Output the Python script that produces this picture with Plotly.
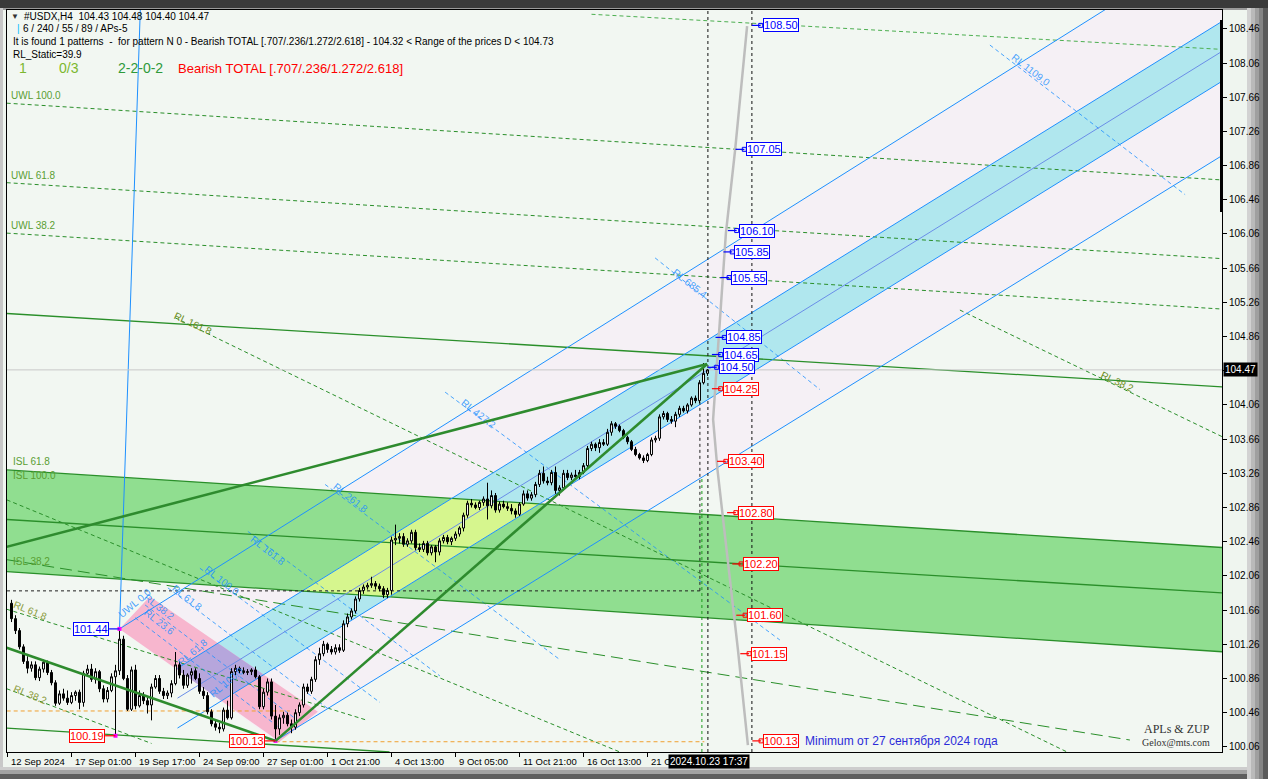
import plotly.graph_objects as go

# ---------------- data (#USDX, H4) ----------------
# bar index 0 = first visible bar, 4 px per bar
opens = [101.74, 101.56, 101.42, 101.23, 101.06, 100.98, 101.02, 100.87, 100.97, 101.05,
         100.93, 100.81, 100.57, 100.68, 100.63, 100.58, 100.66, 100.70, 100.58, 100.92,
         100.97, 100.85, 100.94, 100.74, 100.62, 100.72, 100.88, 100.95, 101.32, 100.86,
         100.50, 100.96, 100.54, 100.66, 100.60, 100.55, 100.76, 100.86, 100.71, 100.66,
         100.69, 100.80, 101.02, 100.90, 100.78, 100.90, 100.95, 100.86, 100.71, 100.66,
         100.47, 100.33, 100.29, 100.27, 100.49, 100.40, 100.94, 100.98, 100.95, 100.93,
         100.94, 100.96, 100.88, 100.53, 100.70, 100.82, 100.42, 100.27, 100.40, 100.43,
         100.33, 100.29, 100.46, 100.55, 100.76, 100.71, 100.85, 101.08, 101.15, 101.26,
         101.20, 101.17, 101.22, 101.19, 101.50, 101.58, 101.65, 101.79, 101.89, 101.93,
         101.95, 101.97, 101.94, 101.91, 101.84, 101.89, 102.48, 102.50, 102.52, 102.43,
         102.47, 102.57, 102.39, 102.37, 102.44, 102.33, 102.40, 102.34, 102.47, 102.51,
         102.46, 102.50, 102.55, 102.62, 102.77, 102.91, 102.89, 102.86, 102.92, 102.96,
         102.88, 103.00, 102.83, 102.90, 102.87, 102.85, 102.82, 102.78, 102.90, 103.02,
         102.97, 103.01, 103.13, 103.26, 103.17, 103.15, 103.27, 103.06, 103.09, 103.26,
         103.21, 103.24, 103.22, 103.27, 103.35, 103.55, 103.60, 103.56, 103.62, 103.60,
         103.74, 103.84, 103.81, 103.76, 103.68, 103.63, 103.54, 103.48, 103.44, 103.41,
         103.48, 103.65, 103.67, 103.92, 103.96, 103.89, 103.87, 103.95, 104.02, 103.99,
         104.06, 104.14, 104.11, 104.32, 104.43]
highs = [101.78, 101.60, 101.45, 101.26, 101.12, 101.06, 101.06, 101.00, 101.08, 101.07,
         100.96, 100.84, 100.72, 100.74, 100.72, 100.70, 100.72, 100.73, 100.95, 101.02,
         101.03, 100.98, 100.96, 100.78, 100.76, 100.92, 101.02, 101.44, 101.36, 100.90,
         101.00, 101.02, 100.72, 100.70, 100.64, 100.80, 100.90, 100.90, 100.75, 100.72,
         100.84, 101.17, 101.06, 100.96, 100.92, 100.98, 100.98, 100.92, 100.76, 100.70,
         100.50, 100.38, 100.34, 100.52, 100.60, 100.98, 101.02, 101.00, 100.99, 100.97,
         100.98, 101.00, 100.90, 100.74, 100.86, 100.86, 100.55, 100.44, 100.47, 100.46,
         100.38, 100.50, 100.58, 100.80, 100.80, 100.88, 101.12, 101.22, 101.30, 101.28,
         101.24, 101.26, 101.26, 101.54, 101.62, 101.68, 101.82, 101.92, 101.96, 101.98,
         102.05, 102.00, 101.97, 101.94, 101.92, 102.52, 102.66, 102.56, 102.56, 102.50,
         102.60, 102.60, 102.44, 102.47, 102.47, 102.42, 102.42, 102.50, 102.54, 102.54,
         102.52, 102.58, 102.64, 102.80, 102.94, 102.96, 102.92, 102.94, 102.99, 103.15,
         103.06, 103.03, 102.93, 102.94, 102.92, 102.90, 102.85, 102.92, 103.06, 103.06,
         103.04, 103.16, 103.30, 103.34, 103.22, 103.30, 103.34, 103.12, 103.30, 103.30,
         103.27, 103.30, 103.30, 103.38, 103.58, 103.63, 103.62, 103.66, 103.66, 103.78,
         103.87, 103.86, 103.83, 103.78, 103.70, 103.65, 103.57, 103.50, 103.47, 103.50,
         103.68, 103.70, 103.95, 103.99, 103.98, 103.93, 103.98, 104.05, 104.05, 104.08,
         104.16, 104.17, 104.35, 104.55, 104.48]
lows = [101.52, 101.38, 101.20, 101.03, 100.92, 100.94, 100.84, 100.83, 100.93, 100.90,
        100.78, 100.54, 100.55, 100.60, 100.55, 100.56, 100.60, 100.50, 100.53, 100.90,
        100.82, 100.80, 100.70, 100.58, 100.58, 100.70, 100.19, 100.90, 100.84, 100.48,
        100.48, 100.50, 100.52, 100.56, 100.45, 100.37, 100.74, 100.68, 100.62, 100.62,
        100.64, 100.78, 100.86, 100.74, 100.75, 100.80, 100.84, 100.68, 100.62, 100.44,
        100.30, 100.25, 100.22, 100.24, 100.38, 100.38, 100.90, 100.92, 100.91, 100.90,
        100.90, 100.86, 100.50, 100.50, 100.66, 100.38, 100.13, 100.20, 100.33, 100.30,
        100.22, 100.26, 100.42, 100.52, 100.68, 100.68, 100.82, 101.02, 101.12, 101.16,
        101.14, 101.14, 101.16, 101.17, 101.46, 101.55, 101.62, 101.76, 101.85, 101.90,
        101.92, 101.90, 101.88, 101.80, 101.80, 101.84, 102.42, 102.44, 102.40, 102.40,
        102.44, 102.36, 102.34, 102.34, 102.30, 102.30, 102.22, 102.30, 102.44, 102.43,
        102.42, 102.47, 102.52, 102.58, 102.74, 102.86, 102.84, 102.83, 102.88, 102.72,
        102.85, 102.80, 102.80, 102.85, 102.82, 102.78, 102.74, 102.76, 102.88, 102.94,
        102.94, 102.98, 103.10, 103.14, 103.12, 103.12, 103.02, 103.00, 103.06, 103.18,
        103.18, 103.20, 103.19, 103.25, 103.32, 103.52, 103.52, 103.50, 103.58, 103.58,
        103.70, 103.78, 103.74, 103.66, 103.60, 103.52, 103.46, 103.42, 103.38, 103.39,
        103.46, 103.62, 103.64, 103.89, 103.86, 103.84, 103.80, 103.92, 103.97, 103.96,
        104.04, 104.08, 104.08, 104.30, 104.40]
closes = [101.56, 101.42, 101.23, 101.06, 100.98, 101.02, 100.87, 100.97, 101.05, 100.93,
          100.81, 100.57, 100.68, 100.63, 100.58, 100.66, 100.70, 100.58, 100.92, 100.97,
          100.85, 100.94, 100.74, 100.62, 100.72, 100.88, 100.95, 101.32, 100.86, 100.50,
          100.96, 100.54, 100.66, 100.60, 100.55, 100.76, 100.86, 100.71, 100.66, 100.69,
          100.80, 101.02, 100.90, 100.78, 100.90, 100.94, 100.86, 100.71, 100.66, 100.47,
          100.33, 100.29, 100.27, 100.49, 100.40, 100.94, 100.98, 100.95, 100.93, 100.94,
          100.96, 100.88, 100.53, 100.70, 100.82, 100.42, 100.27, 100.40, 100.43, 100.33,
          100.29, 100.46, 100.55, 100.76, 100.71, 100.85, 101.08, 101.15, 101.26, 101.20,
          101.17, 101.22, 101.19, 101.50, 101.58, 101.65, 101.79, 101.89, 101.93, 101.95,
          101.97, 101.94, 101.91, 101.84, 101.89, 102.48, 102.50, 102.52, 102.43, 102.47,
          102.57, 102.39, 102.37, 102.44, 102.33, 102.40, 102.34, 102.47, 102.51, 102.46,
          102.50, 102.55, 102.62, 102.77, 102.91, 102.89, 102.86, 102.92, 102.96, 102.88,
          103.00, 102.83, 102.90, 102.87, 102.85, 102.82, 102.78, 102.90, 103.02, 102.97,
          103.01, 103.13, 103.26, 103.17, 103.15, 103.27, 103.06, 103.09, 103.26, 103.21,
          103.24, 103.22, 103.27, 103.35, 103.55, 103.60, 103.56, 103.62, 103.60, 103.74,
          103.84, 103.81, 103.76, 103.68, 103.63, 103.54, 103.48, 103.44, 103.41, 103.48,
          103.65, 103.67, 103.92, 103.96, 103.89, 103.87, 103.95, 104.02, 103.99, 104.06,
          104.14, 104.11, 104.32, 104.43, 104.47]
bars = list(range(len(closes)))

tick_bars = [-1, 15, 31, 47, 63, 79, 95, 111, 127, 143, 159]
tick_labels = ["12 Sep 2024", "17 Sep 01:00", "19 Sep 17:00", "24 Sep 09:00", "27 Sep 01:00",
               "1 Oct 21:00", "4 Oct 13:00", "9 Oct 05:00", "11 Oct 21:00", "16 Oct 13:00",
               "21 Oct 05:00"]
price_ticks = [100.06, 100.46, 100.86, 101.26, 101.66, 102.06, 102.46, 102.86, 103.26, 103.66,
               104.06, 104.46, 104.86, 105.26, 105.66, 106.06, 106.46, 106.86, 107.26, 107.66,
               108.06, 108.46]
last_price = 104.47

# pattern legs (bar, price)
xa_leg = ([-1.2, 66], [101.22, 100.13])
xb_leg = ([-1.2, 173.9], [102.40, 104.54])
ab_leg = ([66, 173.9], [100.13, 104.54])

# blue channel rays
ray_steep = ([27, 32.2], [101.44, 108.68])
ray_upper = ([27, 310], [101.44, 109.76])
ray_lower = ([66, 310], [100.13, 107.19])
cyan_x = [41.5, 310]
cyan_top = [100.98, 108.76]
cyan_mid = [100.63, 108.41]
cyan_bot = [100.28, 108.06]

# green ISL band
band_x = [-1.2, 310]
band_top = [103.30, 102.37]
band_mid = [102.72, 101.84]
band_bot = [102.11, 101.15]

# pink band
pink_x = [27, 34.6, 76.6, 67.0]
pink_y = [101.44, 101.82, 100.47, 100.12]

# thin solid green lines
green_upper = ([-1.2, 310], [105.13, 104.25])
green_floor = ([-1.2, 94.5], [100.28, 100.0])

# UWL dashed lines
uwl_x = [-1.2, 310]
uwl_100 = [107.59, 106.67]
uwl_618 = [106.66, 105.75]
uwl_382 = [106.07, 105.16]
top_dash = ([145, 310], [108.63, 108.20])

# RL dashed green lines
rl_green = [([40.9, 263.9], [105.08, 100.0]),
            ([-1.2, 152.1], [102.95, 100.0]),
            ([-1.2, 279.6], [102.25, 100.14]),
            ([237.1, 302.6], [105.17, 103.69]),
            ([-1.2, 89.0], [101.67, 100.37]),
            ([-1.2, 35.0], [100.74, 100.10])]

# RL dashed blue lines
rl_blue = [([244.6, 293.4], [108.27, 106.52]),
           ([160.9, 202.1], [105.78, 104.24]),
           ([108.4, 192.1], [104.21, 101.31]),
           ([78.4, 137.1], [103.13, 101.08]),
           ([59.1, 107.1], [102.58, 100.89]),
           ([47.1, 92.1], [102.15, 100.58]),
           ([39.1, 79.6], [101.92, 100.49]),
           ([33.4, 72.1], [101.72, 100.35]),
           ([30.9, 67.1], [101.57, 100.28])]

vline_bars = [174.1, 185.1]
box_level = 101.885
box_bar = 172.1
box_top = 104.2
orange_levels = [100.48, 100.12]
orange_from = [-1.2, 66]
orange_to = [69.6, 173.2]

# projection (grey) line
proj_bars = [183.9, 180.9, 178.6, 176.9, 175.9, 175.4, 176.5, 179.1, 181.6, 184.1]
proj_prices = [108.49, 107.04, 106.07, 104.90, 104.16, 103.89, 103.30, 102.25, 101.20, 100.08]

# target labels
blue_levels = [108.50, 107.05, 106.10, 105.85, 105.55, 104.85, 104.65, 104.50]
blue_bars = [187.3, 183.2, 181.3, 180.2, 179.4, 178.2, 177.3, 176.3]
red_levels = [104.25, 103.40, 102.80, 102.20, 101.60, 101.15, 100.13]
red_bars = [177.3, 178.6, 181.1, 182.4, 183.4, 184.4, 187.4]

swing_bars = [27, 26, 66]
swing_prices = [101.44, 100.19, 100.13]
swing_colors = ["#0000ff", "#ff0000", "#ff0000"]

# ---------------- layout geometry ----------------
W, H = 1268, 779
L, R, T, B = 7, 46, 10, 27
PW, PH = W - L - R, H - T - B
X0, X1 = -1.125, 302.625
Y0, Y1 = 100.0, 108.68
FONT = "Liberation Sans"

BLUE = "#1e90ff"
DGREEN = "#2a8f2a"
SHORT_DASH = "4px,3px"
DOTS = "3px,3px"


def fx(px):
    return (px - L) / PW


def fy(py):
    return (H - B - py) / PH


shapes = []
annotations = []


def seg(xs, ys, color, width=1, dash="solid", layer="below"):
    shapes.append(dict(type="line", xref="x", yref="y", x0=xs[0], y0=ys[0], x1=xs[1], y1=ys[1],
                       line=dict(color=color, width=width, dash=dash), layer=layer))


def poly(pts, fill):
    if len(pts) < 3:
        return
    path = "M " + " L ".join(f"{x:.4f},{y:.4f}" for x, y in pts) + " Z"
    shapes.append(dict(type="path", xref="x", yref="y", path=path, fillcolor=fill,
                       line=dict(width=0), layer="below"))


def clip_poly(subj, clip):
    area = sum(clip[k - 1][0] * clip[k][1] - clip[k][0] * clip[k - 1][1] for k in range(len(clip)))
    if area < 0:
        clip = clip[::-1]

    def inside(p, a, b):
        return (b[0] - a[0]) * (p[1] - a[1]) - (b[1] - a[1]) * (p[0] - a[0]) >= 0

    def cross(p, q, a, b):
        dx, dy = q[0] - p[0], q[1] - p[1]
        ex, ey = b[0] - a[0], b[1] - a[1]
        t = ((a[0] - p[0]) * ey - (a[1] - p[1]) * ex) / (dx * ey - dy * ex)
        return (p[0] + t * dx, p[1] + t * dy)

    out = list(subj)
    for k in range(len(clip)):
        a, b = clip[k - 1], clip[k]
        inp, out = out, []
        for j in range(len(inp)):
            cur, prev = inp[j], inp[j - 1]
            if inside(cur, a, b):
                if not inside(prev, a, b):
                    out.append(cross(prev, cur, a, b))
                out.append(cur)
            elif inside(prev, a, b):
                out.append(cross(prev, cur, a, b))
        if not out:
            break
    return out


def note(text, px, py, size=10, color="black", anchor="left", angle=0, family=FONT, **kw):
    annotations.append(dict(text=text, x=fx(px), y=fy(py), xref="paper", yref="paper",
                            xanchor=anchor, yanchor="middle", showarrow=False, textangle=angle,
                            font=dict(family=family, size=size, color=color), **kw))


# ---------------- fills ----------------
channel = [(ray_upper[0][0], ray_upper[1][0]), (ray_upper[0][1], ray_upper[1][1]),
           (ray_lower[0][1], ray_lower[1][1]), (ray_lower[0][0], ray_lower[1][0])]
poly(channel, "#f5f0f5")

green_poly = [(band_x[0], band_top[0]), (band_x[1], band_top[1]),
              (band_x[1], band_bot[1]), (band_x[0], band_bot[0])]
cyan_poly = [(cyan_x[0], cyan_top[0]), (cyan_x[1], cyan_top[1]),
             (cyan_x[1], cyan_bot[1]), (cyan_x[0], cyan_bot[0])]
pink_poly = list(zip(pink_x, pink_y))

# cyan band is cut along the lower edge of the pink band (A -> D) extended
ax_, ay_ = pink_x[0], pink_y[0]
dx_, dy_ = pink_x[3] - ax_, pink_y[3] - ay_
p1 = (ax_ - 2 * dx_, ay_ - 2 * dy_)
p2 = (ax_ + 11 * dx_, ay_ + 11 * dy_)
half_plane = [p1, p2, (p2[0], 130.0), (p1[0], 130.0)]
cyan_cut = clip_poly(cyan_poly, half_plane)

poly(green_poly, "#90de90")
poly(cyan_cut, "#b0e7ee")
poly(pink_poly, "#f7b6ce")
poly(clip_poly(cyan_cut, green_poly), "#d6f68e")
poly(clip_poly(pink_poly, cyan_cut), "#b6a6dc")

# ---------------- lines ----------------
for ys in (uwl_100, uwl_618, uwl_382):
    seg(uwl_x, ys, DGREEN, 1, SHORT_DASH)
seg(top_dash[0], top_dash[1], "#4caf50", 1, SHORT_DASH)
for k, (xs, ys) in enumerate(rl_green):
    seg(xs, ys, DGREEN, 1, "12px,6px" if k == 2 else SHORT_DASH)
for xs, ys in rl_blue:
    seg(xs, ys, "rgba(30,144,255,0.8)", 1, SHORT_DASH)

seg(band_x, band_top, DGREEN, 1.3)
seg(band_x, band_mid, DGREEN, 1.3)
seg(band_x, band_bot, DGREEN, 1.3)
seg(green_upper[0], green_upper[1], DGREEN, 1.3)
seg(green_floor[0], green_floor[1], DGREEN, 1.3)

seg(ray_steep[0], ray_steep[1], BLUE, 1)
seg(ray_upper[0], ray_upper[1], BLUE, 1)
seg(ray_lower[0], ray_lower[1], BLUE, 1)
seg(cyan_x, cyan_top, BLUE, 1)
seg(cyan_x, cyan_mid, "#6a8ee8", 1)
seg(cyan_x, cyan_bot, BLUE, 1)

for lv, a, b in zip(orange_levels, orange_from, orange_to):
    seg([a, b], [lv, lv], "#f0a030", 1, SHORT_DASH)
seg([X0, box_bar], [box_level, box_level], "#202020", 1, DOTS)
seg([box_bar, box_bar], [box_level, box_top], "#202020", 1, DOTS)
seg([box_bar + 0.5, box_bar + 0.5], [Y0, 103.2], "#1a9a1a", 1, DOTS)
for vb in vline_bars:
    seg([vb, vb], [Y0, Y1], "#101010", 1, DOTS)
seg([X0, X1], [last_price, last_price], "#c8c8c8", 1)

seg(xa_leg[0], xa_leg[1], "#2e8b2e", 2.6, layer="above")
seg(xb_leg[0], xb_leg[1], "#2e8b2e", 2.6, layer="above")
seg(ab_leg[0], ab_leg[1], "#2e8b2e", 2.6, layer="above")

# ---------------- traces ----------------
fig = go.Figure()
fig.add_trace(go.Candlestick(
    x=bars, open=opens, high=highs, low=lows, close=closes,
    increasing=dict(line=dict(color="black", width=1), fillcolor="white"),
    decreasing=dict(line=dict(color="black", width=1), fillcolor="black"),
    whiskerwidth=0, hoverinfo="skip"))

fig.add_trace(go.Scatter(x=proj_bars, y=proj_prices, mode="lines",
                         line=dict(color="#bdbdbd", width=2.5), hoverinfo="skip"))

LABEL_STUB = 2.2
for levels, lbars, col in ((blue_levels, blue_bars, "#0000ff"), (red_levels, red_bars, "#ff0000")):
    for lv, lb in zip(levels, lbars):
        seg([lb - LABEL_STUB, lb], [lv, lv], col, 1.2, layer="above")
        annotations.append(dict(text=f"{lv:.2f}", x=lb, y=lv, xref="x", yref="y", xanchor="left",
                                yanchor="middle", xshift=2, showarrow=False,
                                font=dict(family=FONT, size=11, color=col),
                                bgcolor="white", bordercolor=col, borderwidth=1, borderpad=0))
    fig.add_trace(go.Scatter(x=lbars, y=levels, mode="markers", hoverinfo="skip",
                             marker=dict(symbol="square-open", size=4, color=col,
                                         line=dict(width=1, color=col))))

SWING_GAP = 2.6
for sb, sp, col in zip(swing_bars, swing_prices, swing_colors):
    seg([sb - SWING_GAP, sb], [sp, sp], col, 1.2, layer="above")
    annotations.append(dict(text=f"{sp:.2f}", x=sb - SWING_GAP, y=sp, xref="x", yref="y",
                            xanchor="right", yanchor="middle", showarrow=False,
                            font=dict(family=FONT, size=11, color=col),
                            bgcolor="white", bordercolor=col, borderwidth=1, borderpad=0))
fig.add_trace(go.Scatter(x=swing_bars, y=swing_prices, mode="markers", hoverinfo="skip",
                         marker=dict(symbol="square", size=4, color="#ff00ff")))

# ---------------- texts ----------------
note("\u25bc", 9, 16, size=8, color="#333333")
note("#USDX,H4\u00a0\u00a0104.43 104.48 104.40 104.47", 22, 16, size=10)
note("|", 15, 29, size=10, color="#00bfff")
note("6 / 240 / 55 / 89 / APs-5", 21, 29, size=10)
note("It is found 1 patterns\u00a0 -\u00a0 for pattern N 0 - Bearish TOTAL [.707/.236/1.272/2.618] - 104.32 < Range of the prices D < 104.73",
     11, 42, size=10)
note("RL_Static=39.9", 11, 54, size=10)
note("1", 17, 68, size=14, color="#7cb82f")
note("0/3", 57, 68, size=14, color="#7cb82f")
note("2-2-0-2", 116, 68, size=14, color="#2e9a3a")
note("Bearish TOTAL [.707/.236/1.272/2.618]", 176, 68, size=13, color="#ff0000")

GL = "#5a9e32"
note("UWL 100.0", 9, 95, size=10, color=GL)
note("UWL 61.8", 9, 175, size=10, color=GL)
note("UWL 38.2", 9, 225, size=10, color=GL)
note("ISL 61.8", 11, 462, size=10, color=GL)
note("ISL 100.0", 11, 475, size=10, color=GL)
note("ISL 38.2", 11, 561, size=10, color=GL)
note("RL 161.8", 193, 323, size=10, color="#6b8e23", anchor="center", angle=25)
note("RL 38.2", 1117, 381, size=10, color="#6b8e23", anchor="center", angle=25)
note("RL 61.8", 30, 610, size=10, color="#8a9a3a", anchor="center", angle=22)
note("RL 38.2", 30, 694, size=10, color="#8a9a3a", anchor="center", angle=22)

BL = "rgba(30,144,255,0.85)"
note("UWL 0.0", 134, 603, size=10, color=BL, anchor="center", angle=-40)
note("RL 38.2", 160, 607, size=10, color=BL, anchor="center", angle=38)
note("RL 23.6", 160, 622, size=10, color=BL, anchor="center", angle=38)
note("RL 61.8", 187, 597, size=10, color=BL, anchor="center", angle=38)
note("RL 100.0", 222, 580, size=10, color=BL, anchor="center", angle=38)
note("RL 161.8", 268, 550, size=10, color=BL, anchor="center", angle=38)
note("RL 261.8", 350, 498, size=10, color=BL, anchor="center", angle=38)
note("RL 427.2", 478, 414, size=10, color=BL, anchor="center", angle=38)
note("RL 685.4", 690, 283, size=10, color=BL, anchor="center", angle=38)
note("RL 1109.0", 1030, 70, size=10, color=BL, anchor="center", angle=38)
note("RL 61.8", 192, 652, size=10, color=BL, anchor="center", angle=-40)
note("RL 100.0", 226, 682, size=10, color=BL, anchor="center", angle=-40)

note("Minimum от 27 сентября 2024 года", 803, 741, size=12, color="#2b2bd9")
note("APLs &amp; ZUP", 1177, 729, size=12, color="#333333", anchor="center", family="Liberation Serif")
note("Gelox@mts.com", 1176, 742, size=10, color="#333333", anchor="center", family="Liberation Serif")

# x tick labels (MT4 style: text starts at the tick)
for tb, tl in zip(tick_bars, tick_labels):
    annotations.append(dict(text=tl, x=tb, y=fy(762), xref="x", yref="paper", xanchor="left",
                            yanchor="middle", xshift=1, showarrow=False,
                            font=dict(family=FONT, size=9.5, color="black")))
note("2024.10.23 17:37", 668, 762, size=10, color="white", bgcolor="black", borderpad=1)
annotations.append(dict(text=f"{last_price:.2f}", x=1, y=last_price, xref="paper", yref="y",
                        xanchor="left", yanchor="middle", xshift=1, showarrow=False,
                        bgcolor="black", borderpad=1,
                        font=dict(family=FONT, size=10, color="white")))

# the current price box hides the nearest tick label
tick_text = ["" if abs(v - last_price) < 0.05 else f"{v:.2f}" for v in price_ticks]


# ---------------- frame decoration ----------------
def frame(x0, y0, x1, y1, color):
    shapes.append(dict(type="rect", xref="paper", yref="paper", x0=fx(x0), x1=fx(x1),
                       y0=fy(y1), y1=fy(y0), fillcolor=color, line=dict(width=0), layer="below"))


frame(0, 0, W, 8, "#3a3a3a")
frame(0, 8, W, 10, "#9a9a9a")
for (a, b, c) in ((1247, 1251, "#d2d2d2"), (1251, 1255, "#bababa"), (1255, 1259, "#a0a0a0"),
                  (1259, 1263, "#848484"), (1263, 1268, "#5a5a5a")):
    frame(a, 8, b, H, c)
for (a, b, c) in ((767, 770, "#cdcdcd"), (770, 774, "#a2a2a2"), (774, 779, "#5e5e5e")):
    frame(0, a, 1247, b, c)
frame(0, 8, 3, 767, "#c8c8c8")
shapes.append(dict(type="line", xref="paper", yref="paper", x0=fx(1221.5), x1=fx(1221.5),
                   y0=fy(212), y1=fy(20), line=dict(color="black", width=3), layer="above"))

fig.update_layout(
    width=W, height=H, autosize=False,
    margin=dict(l=L, r=R, t=T, b=B),
    paper_bgcolor="#eff5ef", plot_bgcolor="#f2f7f2",
    showlegend=False,
    shapes=shapes, annotations=annotations,
    xaxis=dict(range=[X0, X1], rangeslider=dict(visible=False), showgrid=False, zeroline=False,
               tickvals=tick_bars, ticks="outside", ticklen=4, tickcolor="black",
               showticklabels=False, showline=True, linecolor="black", linewidth=1, mirror=True),
    yaxis=dict(range=[Y0, Y1], side="right", showgrid=False, zeroline=False,
               tickvals=price_ticks, ticktext=tick_text,
               ticks="outside", ticklen=4, tickcolor="black",
               tickfont=dict(family=FONT, size=10, color="black"),
               showline=True, linecolor="black", linewidth=1, mirror=True),
)

fig.write_html("out.html", config={"displayModeBar": False},
               post_script="document.body.style.margin='0';")
